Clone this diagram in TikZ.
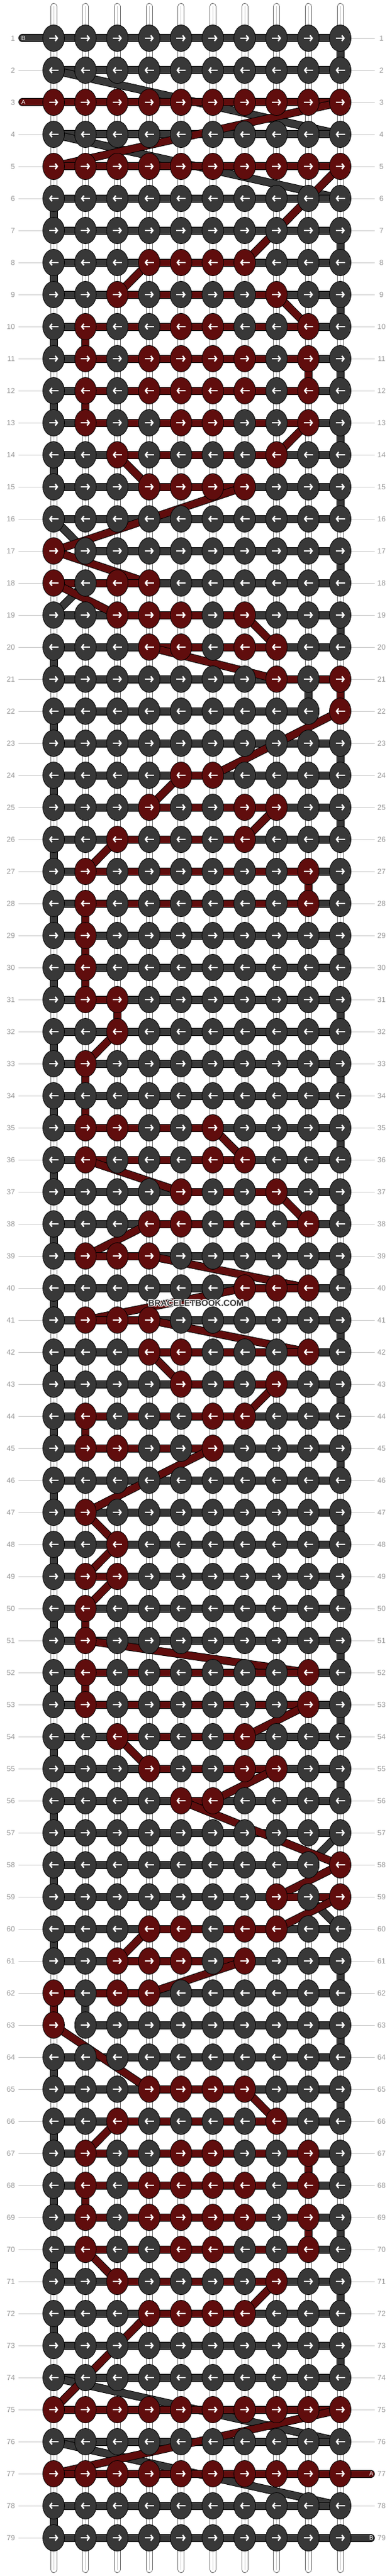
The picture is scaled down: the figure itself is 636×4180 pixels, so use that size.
\documentclass[tikz,border=0pt]{standalone}
\usepackage{fontspec}
\setmainfont{Liberation Sans}
\usepackage{tikz}
\usetikzlibrary{shapes.geometric, arrows.meta}

\definecolor{knotB}{RGB}{56,56,56}
\definecolor{knotA}{RGB}{96,13,13}
\definecolor{labelgray}{RGB}{150,150,150}
\definecolor{guidegray}{RGB}{200,200,200}
\definecolor{stringgray}{RGB}{110,110,110}

\pgfdeclarelayer{strings}
\pgfdeclarelayer{threads}
\pgfsetlayers{strings,threads,main}

\tikzset{
  knot/.style={ellipse, draw=black, line width=0.8pt, minimum width=35pt, minimum height=43pt, inner sep=0pt},
  arrowline/.style={white, line width=2.3pt, -{Straight Barb[length=3.5pt,width=9pt]}},
  fwd/.style={path picture={\draw[arrowline] ([xshift=-7.5pt]path picture bounding box.center) -- ([xshift=7.5pt]path picture bounding box.center);}},
  bwd/.style={path picture={\draw[arrowline] ([xshift=7.5pt]path picture bounding box.center) -- ([xshift=-7.5pt]path picture bounding box.center);}},
  threadB/.style={draw=black, line width=1pt, double=knotB, double distance=11pt, line cap=round},
  threadA/.style={draw=black, line width=1pt, double=knotA, double distance=11pt, line cap=round},
  basestring/.style={draw=stringgray, line width=1pt, double=white, double distance=9pt, line cap=round},
  rowlabel/.style={text=labelgray, font=\fontsize{12}{12}\selectfont, inner sep=0pt},
  guide/.style={draw=guidegray, line width=0.8pt},
  taillabel/.style={text=white, font=\fontsize{10}{10}\selectfont, inner sep=0pt},
  wmark/.style={font=\fontsize{14}{14}\selectfont\bfseries, inner sep=0pt},
}

% one letter per knot: A = red thread, B = gray thread
\makeatletter
\newcount\kn@col
\def\storerow#1#2{\xdef\kn@row{#1}\global\kn@col=0 \expandafter\kn@scan#2\relax}
\def\kn@scan#1{\ifx#1\relax\else
  \global\advance\kn@col by 1
  \expandafter\xdef\csname kc@\kn@row @\the\kn@col\endcsname{#1}%
  \expandafter\kn@scan\fi}
\def\knotcol#1#2{\csname kc@#1@#2\endcsname}
\makeatother

\begin{document}
\begin{tikzpicture}[x=1pt, y=-1pt]
\useasboundingbox (0,0) rectangle (636,4180);

% pattern, row by row
\foreach \r/\pat in {1/BBBBBBBBBB, 2/BBBBBBBBBB, 3/AAAAAAAAAA, 4/BBBBBBBBBB, 5/AAAAAAAAAA,
  6/BBBBBBBBBB, 7/BBBBBBBBBB, 8/BBBAAAABBB, 9/BBABBBBABB, 10/BABBAABBAB,
  11/BABAAAABAB, 12/BABAAAABAB, 13/BABBAABBAB, 14/BBABBBBABB, 15/BBBAAAABBB,
  16/BBBBBBBBBB, 17/ABBBBBBBBB, 18/ABAABBBBBB, 19/BBAAABABBB, 20/BBBAABAABB,
  21/BBBBBBBABA, 22/BBBBBBBBBA, 23/BBBBBBBBBB, 24/BBBBAABBBB, 25/BBBABBAABB,
  26/BBABBBABBB, 27/BABBBBBBAB, 28/BABBBBBBAB, 29/BABBBBBBBB, 30/BABBBBBBBB,
  31/BAABBBBBBB, 32/BBABBBBBBB, 33/BABBBBBBBB, 34/BBBBBBBBBB, 35/BAABBABBBB,
  36/BABBBAABBB, 37/BBBBABBABB, 38/BBBAABBBAB, 39/BAAABBBBBB, 40/BBBBBBAAAB,
  41/BAAABBBBBB, 42/BBBAABBBAB, 43/BBBBABBABB, 44/BABBBAABBB, 45/BAABBABBBB,
  46/BBBBBBBBBB, 47/BABBBBBBBB, 48/BBABBBBBBB, 49/BAABBBBBBB, 50/BABBBBBBBB,
  51/BABBBBBBBB, 52/BABBBBBBAB, 53/BABBBBBBAB, 54/BBABBBABBB, 55/BBBABBAABB,
  56/BBBBAABBBB, 57/BBBBBBBBBB, 58/BBBBBBBBBA, 59/BBBBBBBABA, 60/BBBAABAABB,
  61/BBAAABABBB, 62/ABAABBBBBB, 63/ABBBBBBBBB, 64/BBBBBBBBBB, 65/BBBAAAABBB,
  66/BBABBBBABB, 67/BABBAABBAB, 68/BABAAAABAB, 69/BABAAAABAB, 70/BABBAABBAB,
  71/BBABBBBABB, 72/BBBAAAABBB, 73/BBBBBBBBBB, 74/BBBBBBBBBB, 75/AAAAAAAAAA,
  76/BBBBBBBBBB, 77/AAAAAAAAAA, 78/BBBBBBBBBB, 79/BBBBBBBBBB}
  {\storerow{\r}{\pat}}

% knots
\foreach \r in {1,...,79}{
  \foreach \c in {1,...,10}{
    \pgfmathsetmacro\kx{87+(\c-1)*51.67}
    \pgfmathsetmacro\ky{62+(\r-1)*52}
    \if A\knotcol{\r}{\c}\def\kfill{knotA}\else\def\kfill{knotB}\fi
    \ifodd\r
      \node[knot, fill=\kfill, fwd] (k-\r-\c) at (\kx,\ky) {};
    \else
      \node[knot, fill=\kfill, bwd] (k-\r-\c) at (\kx,\ky) {};
    \fi
  }
}

% row numbers
\foreach \r in {1,...,79}{
  \pgfmathsetmacro\ky{62+(\r-1)*52}
  \node[rowlabel, anchor=east] (ll-\r) at (24.5,\ky) {\r};
  \node[rowlabel] (lr-\r) at (619,\ky) {\r};
  \coordinate (gl-\r) at (30,\ky);
  \coordinate (gr-\r) at (608,\ky);
}

% base strings and guide lines
\begin{pgfonlayer}{strings}
\foreach \c in {1,...,10}{
  \pgfmathsetmacro\kx{87+(\c-1)*51.67}
  \coordinate (top-\c) at (\kx,10.5);
  \coordinate (bot-\c) at (\kx,4169.5);
  \draw[basestring] (top-\c) -- (bot-\c);
  \draw[guidegray, line width=0.7pt] (top-\c) -- (bot-\c);
}
\foreach \r in {1,...,79}{
  \ifnum\r=1 \else\ifnum\r=3 \else \draw[guide] (gl-\r) -- (k-\r-1.west);\fi\fi
  \ifnum\r=77 \else\ifnum\r=79 \else \draw[guide] (k-\r-10.east) -- (gr-\r);\fi\fi
}
\end{pgfonlayer}

% threads, knot after knot
\begin{pgfonlayer}{threads}
\coordinate (tailB) at (36.5,62);
\coordinate (endB) at (601.5,4118);
\coordinate (tailA) at (36.5,166);
\coordinate (endA) at (601.5,4014);
% gray thread
\xdef\lastknot{tailB}
\foreach \r in {1,...,79}{
  \ifodd\r \def\order{1,...,10}\else \def\order{10,9,...,1}\fi
  \foreach \c in \order{
    \if B\knotcol{\r}{\c}
      \draw[threadB] (\lastknot) -- (k-\r-\c.center);
      \xdef\lastknot{k-\r-\c.center}
    \fi
  }
}
\draw[threadB] (\lastknot) -- (endB);
% red thread
\xdef\lastknot{tailA}
\foreach \r in {1,...,79}{
  \ifodd\r \def\order{1,...,10}\else \def\order{10,9,...,1}\fi
  \foreach \c in \order{
    \if A\knotcol{\r}{\c}
      \draw[threadA] (\lastknot) -- (k-\r-\c.center);
      \xdef\lastknot{k-\r-\c.center}
    \fi
  }
}
\draw[threadA] (\lastknot) -- (endA);
\end{pgfonlayer}

% thread names at the ends
\node[taillabel] (nameB1) at (38,62) {B};
\node[taillabel] (nameA1) at (38,166) {A};
\node[taillabel] (nameA2) at (602.5,4014) {A};
\node[taillabel] (nameB2) at (602.5,4118) {B};

% watermark
\foreach \dx/\dy [count=\i] in {-1/0,1/0,0/-1,0/1,-1/-1,1/1,-1/1,1/-1}
  \node[wmark, text=white] (wmhalo-\i) at (318+\dx,2115+\dy) {BRACELETBOOK.COM};
\node[wmark, text=black!80] (wm) at (318,2115) {BRACELETBOOK.COM};
\end{tikzpicture}
\end{document}
